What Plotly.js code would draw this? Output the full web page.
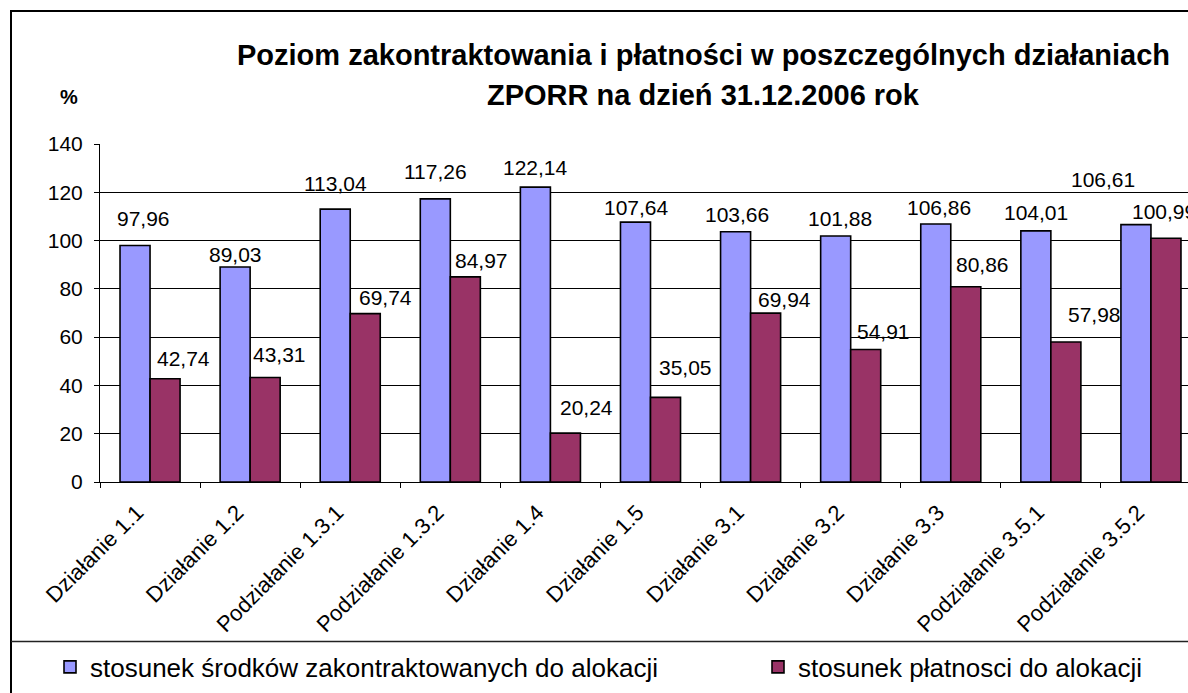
<!DOCTYPE html>
<html>
<head>
<meta charset="utf-8">
<script src="https://cdn.plot.ly/plotly-3.0.1.min.js"></script>
<style>
  html, body { margin: 0; padding: 0; background: #fff; overflow: hidden; }
  #chart { width: 1700px; height: 720px; }
</style>
</head>
<body>
<div id="chart"></div>
<script>
// ---- data ----
const categories = [
  'Działanie 1.1', 'Działanie 1.2', 'Podziałanie 1.3.1', 'Podziałanie 1.3.2',
  'Działanie 1.4', 'Działanie 1.5', 'Działanie 3.1', 'Działanie 3.2',
  'Działanie 3.3', 'Podziałanie 3.5.1', 'Podziałanie 3.5.2'
];
const contracted = [97.96, 89.03, 113.04, 117.26, 122.14, 107.64, 103.66, 101.88, 106.86, 104.01, 106.61];
const payments   = [42.74, 43.31, 69.74, 84.97, 20.24, 35.05, 69.94, 54.91, 80.86, 57.98, 100.99];
const seriesNames = ['stosunek środków zakontraktowanych do alokacji', 'stosunek płatnosci do alokacji'];
const yTicks = [0, 20, 40, 60, 80, 100, 120, 140];
const titleLines = ['Poziom zakontraktowania i płatności w poszczególnych działaniach', 'ZPORR na dzień 31.12.2006 rok'];

// ---- label nudges (pixels, relative to bar centre / bar top) ----
const nudgeContractedDx = [8, 0, 0, 0, 0, 1, 1, 4, 3, 0, -33];
const nudgeContractedDy = [27, 13, 26, 27, 20, 15, 17, 18, 17, 18, 45];
const nudgePaymentsDx   = [18, 14, 20, 16, 21, 20, 19, 18, 17, 29, -2];
const nudgePaymentsDy   = [20, 23, 16, 16, 26, 30, 14, 18, 22, 28, 27];

// ---- geometry (pixels) ----
const L = 100, T = 144, PW = 1101, PH = 338;
const W = 1700, H = 720;
const px2x = p => (p - L) / PW;
const px2y = p => (T + PH - p) / PH;
const FONT = 'Arial, "Liberation Sans", sans-serif';
const fmt = v => v.toFixed(2).replace('.', ',');

const traces = [
  { type: 'bar', name: seriesNames[0], x: categories, y: contracted, legendwidth: 663,
    marker: { color: '#9999FF', line: { color: '#000', width: 1.6 } }, hoverinfo: 'x+y' },
  { type: 'bar', name: seriesNames[1], x: categories, y: payments, legendwidth: 360,
    marker: { color: '#993366', line: { color: '#000', width: 1.6 } }, hoverinfo: 'x+y' }
];

const annotations = [];
const barHalf = 15;
categories.forEach((c, i) => {
  annotations.push({ x: c, y: contracted[i], xref: 'x', yref: 'y', text: fmt(contracted[i]),
    showarrow: false, xshift: -barHalf + nudgeContractedDx[i], yshift: nudgeContractedDy[i],
    yanchor: 'middle', xanchor: 'center', font: { family: FONT, size: 21, color: '#000' } });
  annotations.push({ x: c, y: payments[i], xref: 'x', yref: 'y', text: fmt(payments[i]),
    showarrow: false, xshift: barHalf + nudgePaymentsDx[i], yshift: nudgePaymentsDy[i],
    yanchor: 'middle', xanchor: 'center', font: { family: FONT, size: 21, color: '#000' } });
});
annotations.push({ xref: 'paper', yref: 'paper', x: px2x(703), y: px2y(55), text: '<b>' + titleLines[0] + '</b>',
  showarrow: false, xanchor: 'center', yanchor: 'middle', font: { family: FONT, size: 29, color: '#000' } });
annotations.push({ xref: 'paper', yref: 'paper', x: px2x(703), y: px2y(95), text: '<b>' + titleLines[1] + '</b>',
  showarrow: false, xanchor: 'center', yanchor: 'middle', font: { family: FONT, size: 29, color: '#000' } });
annotations.push({ xref: 'paper', yref: 'paper', x: px2x(68.5), y: px2y(97), text: '<b>%</b>',
  showarrow: false, xanchor: 'center', yanchor: 'middle', font: { family: FONT, size: 20, color: '#000' } });

const layout = {
  width: W, height: H,
  margin: { l: L, r: W - L - PW, t: T, b: H - T - PH, pad: 0 },
  paper_bgcolor: '#fff', plot_bgcolor: '#fff',
  font: { family: FONT, color: '#000' },
  barmode: 'group', bargap: 0.4, bargroupgap: 0,
  showlegend: true,
  legend: { orientation: 'h', x: px2x(50), xanchor: 'left', y: px2y(667), yanchor: 'middle',
    font: { family: FONT, size: 26, color: '#000' }, entrywidthmode: 'pixels',
    bgcolor: 'rgba(0,0,0,0)', borderwidth: 0, traceorder: 'normal' },
  xaxis: { type: 'category', tickangle: -45, tickson: 'boundaries', ticks: 'outside', ticklen: 5,
    tickcolor: '#000', showline: true, linecolor: '#000', linewidth: 1, showgrid: false,
    ticklabelshift: -13, ticklabelstandoff: 8,
    tickfont: { family: FONT, size: 22, color: '#000' }, fixedrange: true },
  yaxis: { range: [0, 140], tickvals: yTicks, ticktext: yTicks.map(String), ticks: 'outside', ticklen: 5,
    tickcolor: '#000', showline: true, linecolor: '#000', linewidth: 1, showgrid: true, gridcolor: '#000',
    gridwidth: 1, zeroline: false, ticklabelstandoff: 7,
    tickfont: { family: FONT, size: 21, color: '#000' }, fixedrange: true },
  annotations: annotations,
  shapes: [
    { type: 'rect', xref: 'paper', yref: 'paper', x0: px2x(11), x1: px2x(1750), y0: px2y(11), y1: px2y(800),
      line: { color: '#000', width: 2 }, fillcolor: 'rgba(0,0,0,0)', layer: 'above' },
    { type: 'line', xref: 'paper', yref: 'paper', x0: px2x(11), x1: px2x(1750), y0: px2y(641.5), y1: px2y(641.5),
      line: { color: '#222', width: 1.5 }, layer: 'above' }
  ]
};

Plotly.newPlot('chart', traces, layout, { displayModeBar: false, staticPlot: true });
</script>
</body>
</html>
